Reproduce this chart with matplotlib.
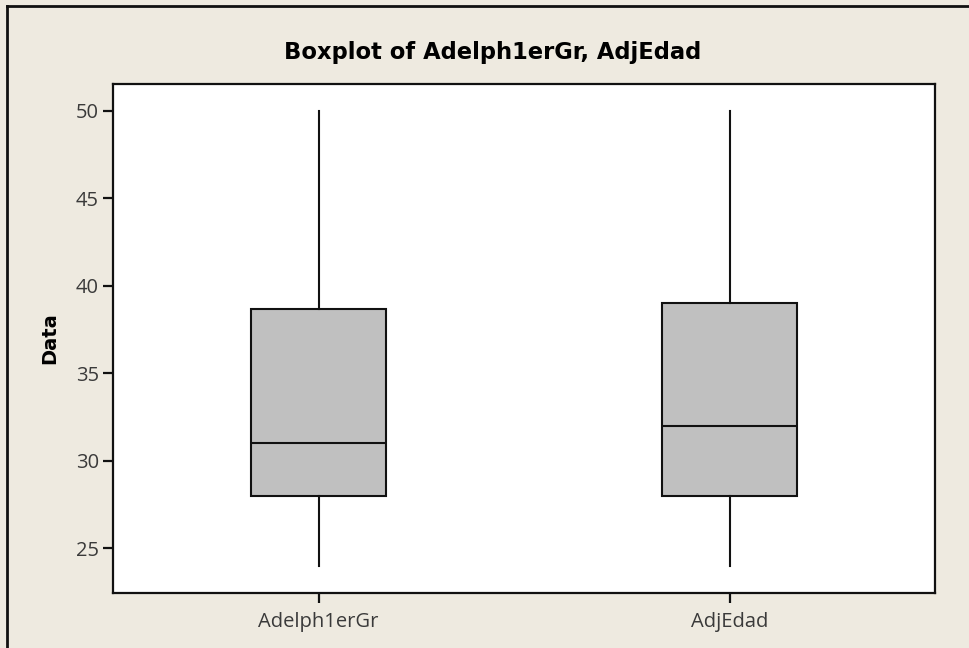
import matplotlib
matplotlib.use("Agg")
import matplotlib.pyplot as plt
from matplotlib.lines import Line2D

categories = ["Adelph1erGr", "AdjEdad"]
whisker_low = [24, 24]
q1 = [28, 28]
median = [31, 32]
q3 = [38.7, 39]
whisker_high = [50, 50]
yticks = [25, 30, 35, 40, 45, 50]

W, H = 969, 648
fig = plt.figure(figsize=(W / 100, H / 100), dpi=100)
fig.patch.set_facecolor("#EEEAE0")

ax = fig.add_axes([113 / W, 1 - 593 / H, (935 - 113) / W, (593 - 84) / H])
ax.set_facecolor("white")

stats = []
for i, c in enumerate(categories):
    stats.append(dict(label=c, whislo=whisker_low[i], q1=q1[i], med=median[i],
                      q3=q3[i], whishi=whisker_high[i], fliers=[]))

ax.bxp(stats, positions=[1, 2], widths=0.33, patch_artist=True, showcaps=False,
       boxprops=dict(facecolor="#C0C0C0", edgecolor="#111111", linewidth=1.5),
       medianprops=dict(color="#111111", linewidth=1.5),
       whiskerprops=dict(color="#111111", linewidth=1.5))

ax.set_xlim(0.5, 2.5)
ax.set_ylim(22.43, 51.54)
ax.set_yticks(yticks)
ax.set_xticks([1, 2])
ax.set_xticklabels(categories)
for s in ax.spines.values():
    s.set_linewidth(1.6)
    s.set_color("#111111")
ax.tick_params(direction="out", length=7, width=1.6, color="#111111",
               labelsize=14.5, labelcolor="#3a3a3a", pad=3)
ax.tick_params(axis="x", pad=7)
for lab in ax.get_xticklabels() + ax.get_yticklabels():
    lab.set_fontfamily("Open Sans")
ax.set_ylabel("Data", fontsize=14, fontweight="bold", labelpad=12)
fig.text(0.5 * (287 + 698) / W, 1 - 52 / H, "Boxplot of Adelph1erGr, AdjEdad",
         ha="center", va="center", fontsize=16.3, fontweight="bold")

# outer frame (left and top edges)
fig.add_artist(Line2D([7 / W, 7 / W], [0, 1 - 6 / H], transform=fig.transFigure,
                      color="#111111", linewidth=2))
fig.add_artist(Line2D([7 / W, 1], [1 - 6 / H, 1 - 6 / H], transform=fig.transFigure,
                      color="#111111", linewidth=2))

fig.savefig("out.png", dpi=100, facecolor=fig.get_facecolor())
